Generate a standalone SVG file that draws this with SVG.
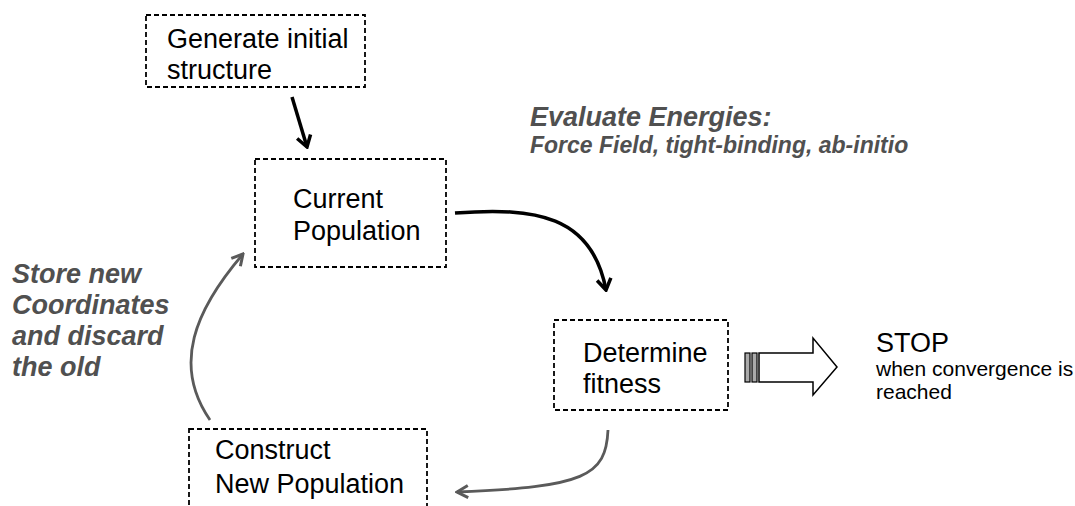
<svg xmlns="http://www.w3.org/2000/svg" width="1075" height="506" viewBox="0 0 1075 506">
<style>
.box{fill:#fff;stroke:#000;stroke-width:1.8;stroke-dasharray:5,3}
.t{font-family:"Liberation Sans",Arial,sans-serif;font-size:27px;fill:#000}
.g{font-family:"Liberation Sans",Arial,sans-serif;font-weight:bold;font-style:italic;fill:#505050}
.blk{fill:none;stroke:#000;stroke-width:3.5}
.gry{fill:none;stroke:#5a5a5a;stroke-width:2.8}
</style>
<defs>
<marker id="ab" markerUnits="userSpaceOnUse" viewBox="-14 -9 16 18" markerWidth="16" markerHeight="18" refX="0" refY="0" orient="auto">
<path d="M-11,-7 L0,0 L-11,7" fill="none" stroke="#000" stroke-width="3.5"/>
</marker>
<marker id="ag" markerUnits="userSpaceOnUse" viewBox="-14 -9 16 18" markerWidth="16" markerHeight="18" refX="0" refY="0" orient="auto">
<path d="M-11,-6 L0,0 L-11,6" fill="none" stroke="#5a5a5a" stroke-width="3"/>
</marker>
</defs>
<rect width="1075" height="506" fill="#fff"/>
<g id="connectors">
<path class="blk" d="M292,97 L307,147" marker-end="url(#ab)"/>
<path class="blk" d="M455,213 C535,207 592,215 606,290" marker-end="url(#ab)"/>
<path class="gry" d="M608,430 C606,476 585,487 457,492" marker-end="url(#ag)"/>
<path class="gry" d="M210,420 C172,365 195,310 243,254" marker-end="url(#ag)"/>
</g>
<g id="generate">
<rect class="box" x="146" y="15" width="219" height="72"/>
<text class="t" x="167" y="48">Generate initial</text>
<text class="t" x="167" y="79">structure</text>
</g>
<g id="current">
<rect class="box" x="255" y="159" width="191" height="108"/>
<text class="t" x="293" y="208">Current</text>
<text class="t" x="293" y="240">Population</text>
</g>
<g id="fitness">
<rect class="box" x="554" y="320" width="174" height="90"/>
<text class="t" x="583" y="362">Determine</text>
<text class="t" x="583" y="393">fitness</text>
</g>
<g id="construct">
<rect class="box" x="189" y="429" width="238" height="100"/>
<text class="t" x="215" y="459">Construct</text>
<text class="t" x="215" y="493">New Population</text>
</g>
<g id="stop">
<rect x="745" y="353" width="5" height="29" fill="#aaa" stroke="#000" stroke-width="1.2"/>
<rect x="752" y="353" width="5" height="29" fill="#aaa" stroke="#000" stroke-width="1.2"/>
<path d="M759,353 L813,353 L813,338 L837,367 L813,395 L813,382 L759,382 Z" fill="#fff" stroke="#000" stroke-width="1.5"/>
<text class="t" x="876" y="352">STOP</text>
<text class="t" x="876" y="376" style="font-size:21px">when convergence is</text>
<text class="t" x="876" y="399" style="font-size:21px">reached</text>
</g>
<g id="labels">
<text class="g" x="530" y="126" style="font-size:27px">Evaluate Energies:</text>
<text class="g" x="530" y="153" style="font-size:23px">Force Field, tight-binding, ab-initio</text>
<text class="g" x="12" y="283" style="font-size:27px">Store new</text>
<text class="g" x="12" y="314" style="font-size:27px">Coordinates</text>
<text class="g" x="12" y="345" style="font-size:27px">and discard</text>
<text class="g" x="12" y="376" style="font-size:27px">the old</text>
</g>
</svg>
